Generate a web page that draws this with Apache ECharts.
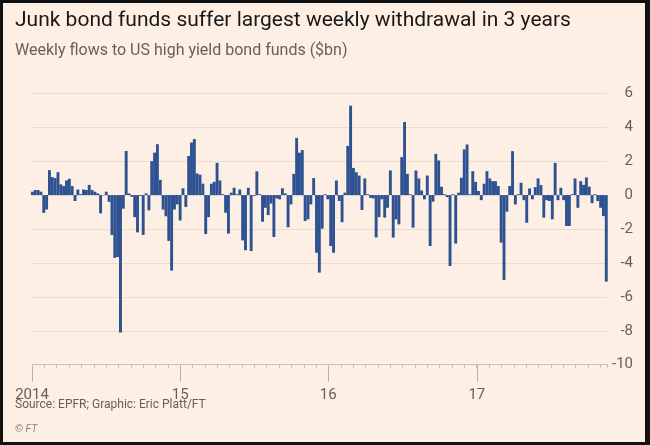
<!DOCTYPE html>
<html><head><meta charset="utf-8">
<script src="https://cdn.jsdelivr.net/npm/echarts@6/dist/echarts.min.js"></script>
<style>
html,body{margin:0;padding:0;background:#111;width:650px;height:445px;overflow:hidden;}
#c{position:absolute;left:3px;top:3px;width:642px;height:439px;}
</style>
</head><body><div id="c"></div>
<script>
// ---- text ----
const titleText = 'Junk bond funds suffer largest weekly withdrawal in 3 years';
const subtitleText = 'Weekly flows to US high yield bond funds ($bn)';
const sourceText = 'Source: EPFR; Graphic: Eric Platt/FT';
const copyrightText = '© FT';

// ---- axes ----
const axisStart = '2014-01-01';
const axisEnd = '2017-11-19';
const firstWeek = '2014-01-02';
const yearStarts = ['2014-01-01', '2015-01-01', '2016-01-01', '2017-01-01'];
const yearLabels = ['2014', '15', '16', '17'];
const yMin = -10, yMax = 6, yStep = 2;

// ---- weekly flows ($bn) ----
const flows2014 = [0.2, 0.3, 0.3, 0.2, -1.05, -0.85, 1.47, 1.06, 1.0, 1.35,
  0.63, 0.53, 0.86, 0.96, 0.53, -0.35, 0.33, 0.05, 0.33, 0.3,
  0.6, 0.3, 0.2, 0.1, -1.08, -0.02, 0.2, -0.4, -2.35, -3.7,
  -3.65, -8.1, -0.8, 2.6, 0.1, -0.1, -1.3, -2.2, -0.05, -2.35,
  0.1, -0.9, 2.0, 2.5, 3.0, 0.9, -0.85, -1.25, -2.7, -4.45,
  -0.85, -0.55];
const flows2015 = [-1.5, 0.4, -0.7, 2.3, 3.1, 3.3, 1.27, 1.2, 0.67, -2.3,
  -1.3, 0.67, 0.78, 1.9, 0.86, 0.05, -1.04, -2.27, 0.14, 0.43,
  0.05, 0.33, -2.67, -3.25, 0.43, -3.3, -0.05, 1.4, 0.05, -1.57,
  -0.75, -1.18, -0.5, -2.47, -0.2, -0.25, 0.4, 0.1, -1.9, -0.55,
  1.25, 3.37, 2.5, 2.65, -1.53, -1.43, -0.55, 1.0, -3.4, -4.57,
  -1.98, 0.05, -0.25];
const flows2016 = [-3.0, -3.4, 0.86, -0.35, -1.6, 0.14, 2.9, 5.27, 1.6, 1.35,
  1.15, -0.88, 0.98, 0.05, -0.16, -0.2, -2.5, -1.3, -0.25, -1.33,
  -0.75, 1.45, -2.5, -1.43, -1.73, 2.24, 4.31, 1.25, 0.05, -1.92,
  1.45, 0.98, 0.27, -0.25, 1.15, -3.0, -0.39, 2.43, 2.04, 0.49,
  0.05, -0.12, -4.18, 0.05, -2.86, 0.14, 1.02, 2.69, 2.98, 0.05,
  1.41, 0.78];
const flows2017 = [0.24, -0.3, 0.67, 1.41, 0.98, 0.82, 0.82, 0.53, -2.8, -5.0,
  -0.98, 0.53, 2.59, -0.55, 0.05, 0.73, -0.3, -1.63, 0.39, -0.25,
  0.47, 0.98, 0.59, -1.33, -0.3, -0.35, -1.43, 1.9, -0.3, 0.43,
  -0.3, -1.82, -1.82, 0.05, 0.98, -0.75, 0.82, 0.6, 1.04, 0.5,
  -0.48, 0.05, -0.35, -0.75, -1.24, -5.1];

// ---- build ----
const DAY = 864e5;
const t0 = Date.parse(axisStart);
const toDay = s => (Date.parse(s) - t0) / DAY;
const flows = flows2014.concat(flows2015, flows2016, flows2017);
const firstDay = toDay(firstWeek);
const barData = flows.map((v, i) => [firstDay + 7 * i, v]);
const yearDays = yearStarts.map(toDay);
const maxDay = toDay(axisEnd);

const FONT = 'Roboto';
const GREY = '#66605c';
const BG = '#fdefe4';

const chart = echarts.init(document.getElementById('c'), null, {renderer: 'canvas'});
chart.setOption({
  backgroundColor: BG,
  animation: false,
  textStyle: {fontFamily: FONT},
  graphic: [
    {type: 'text', left: 12, top: 7, style: {text: titleText, fontFamily: FONT, fontSize: 21, fill: '#1a1817'}},
    {type: 'text', left: 12, top: 40, style: {text: subtitleText, fontFamily: FONT, fontSize: 16, fill: GREY}},
    {type: 'text', left: 12, top: 396, style: {text: sourceText, fontFamily: FONT, fontSize: 12, fill: GREY}},
    {type: 'text', left: 12, top: 421, style: {text: copyrightText, fontFamily: FONT, fontSize: 10.5, fontStyle: 'italic', fill: '#8a827c'}}
  ],
  grid: {left: 29, right: 37.5, top: 90.3, bottom: 77.3, containLabel: false},
  xAxis: [
    {
      type: 'value', min: 0, max: maxDay,
      axisLine: {show: true, onZero: false, lineStyle: {color: '#cdc1b6', width: 1}},
      axisTick: {show: true, length: 17, customValues: yearDays, lineStyle: {color: '#b8aea5'}},
      axisLabel: {show: true, customValues: yearDays, margin: 23, fontSize: 15, color: GREY, fontFamily: FONT,
        formatter: v => yearLabels[yearDays.indexOf(v)] || ''},
      splitLine: {show: false}
    },
    {
      type: 'value', min: 0, max: maxDay, interval: 365.25 / 12, position: 'bottom',
      axisLine: {show: false, onZero: false},
      axisTick: {show: true, length: 3, lineStyle: {color: '#c4b9af'}},
      axisLabel: {show: false},
      splitLine: {show: false}
    }
  ],
  yAxis: {
    type: 'value', position: 'right', min: yMin, max: yMax, interval: yStep,
    axisLine: {show: false}, axisTick: {show: false},
    axisLabel: {align: 'right', margin: 25.5, fontSize: 15, color: GREY, fontFamily: FONT, padding: [4, 0, 0, 0]},
    splitLine: {show: true, lineStyle: {color: '#e9ddd2', width: 1}}
  },
  series: [{
    type: 'bar', xAxisIndex: 0, data: barData, barWidth: 2.9,
    itemStyle: {color: '#2d5191'}
  }]
});
</script>
</body></html>
